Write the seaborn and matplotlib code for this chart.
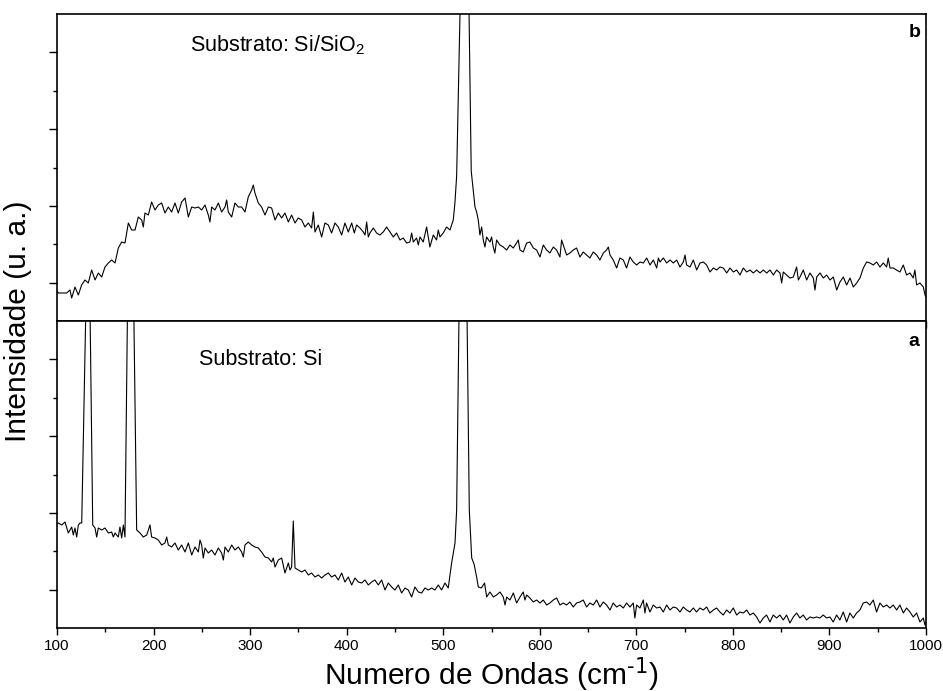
import matplotlib
matplotlib.use("Agg")
import matplotlib.pyplot as plt
from matplotlib.ticker import FixedLocator, MultipleLocator, NullFormatter
import numpy as np
import pandas as pd
import seaborn as sns

# ---------------- data (arbitrary units) ----------------
# (b) Substrato: Si/SiO2
wn_b = [100.0, 101.4, 104.8, 108.3, 110.0, 113.5, 115.2, 118.6, 122.1, 125.5, 129.0, 132.4, 135.9,
        139.4, 142.8, 146.3, 149.7, 153.2, 156.6, 160.1, 163.5, 167.0, 170.4, 173.9, 177.3, 180.8,
        184.2, 187.7, 189.4, 191.1, 194.6, 198.0, 201.5, 204.9, 208.4, 211.8, 215.3, 218.7, 222.2,
        225.6, 229.1, 232.6, 236.0, 239.5, 242.9, 246.4, 249.8, 253.3, 256.7, 258.4, 260.2, 263.6,
        267.1, 270.5, 274.0, 275.7, 277.4, 280.9, 284.3, 287.8, 291.2, 294.7, 298.1, 301.6, 303.3,
        305.0, 308.5, 311.9, 315.4, 318.9, 322.3, 325.8, 329.2, 332.7, 336.1, 339.6, 343.0, 346.5,
        349.9, 353.4, 356.8, 360.3, 363.7, 365.5, 367.2, 370.6, 374.1, 377.5, 381.0, 384.4, 387.9,
        391.3, 394.8, 398.2, 401.7, 405.2, 407.9,
        410.3, 413.8, 417.2, 419.0, 420.7, 422.4, 424.1, 427.6, 431.0, 434.5, 437.9, 441.4, 444.8,
        448.3, 451.7, 455.2, 458.6, 462.1, 465.5, 467.3, 469.0, 472.4, 474.2, 475.9, 479.3, 482.8,
        486.2, 489.7, 493.1, 494.9, 496.6, 500.0, 503.5, 507.0, 510.4, 512.1, 513.9, 523.0, 529.0,
        531.1, 532.9, 534.6, 536.3, 538.0, 539.8, 541.5, 543.2, 544.9, 548.4, 550.1, 551.8, 553.5,
        555.3, 558.7, 562.2, 565.6, 569.1, 572.5, 576.0, 577.7, 579.5, 582.9, 586.4, 589.8, 593.3,
        596.7, 600.2, 603.6, 607.1, 610.5, 614.0, 617.4, 620.9, 622.6, 624.3, 627.8, 631.2, 634.7,
        638.1, 641.6, 645.0, 648.5, 651.9, 655.4, 658.9, 662.3, 665.8, 669.2, 671.0, 672.7, 676.1,
        679.6, 683.0, 686.5, 689.9, 693.4, 696.8, 700.3,
        703.8, 707.3, 710.7, 714.2, 717.6, 721.1, 722.8, 724.5, 728.0, 731.4, 734.9, 738.3, 741.8,
        745.2, 748.7, 750.4, 752.1, 755.6, 759.0, 762.5, 765.9, 769.4, 772.8, 776.3, 779.7, 783.2,
        786.6, 790.1, 793.6, 797.0, 800.5, 803.9, 807.4, 810.8, 814.3, 817.7, 821.2, 824.6, 828.1,
        831.5, 835.0, 838.4, 841.9, 845.3, 848.8, 850.5, 852.2, 855.7, 859.1, 862.6, 866.0, 867.8,
        869.5, 872.9, 876.4, 879.8, 883.3, 885.0, 886.8, 890.2, 893.7, 897.1, 900.6, 904.0, 907.5,
        910.9, 914.4, 917.8, 921.3, 924.7, 928.2, 931.6, 935.1, 938.5, 942.0, 945.4, 948.9, 952.3,
        955.8, 959.2, 960.9, 962.7, 966.1, 969.6, 973.0, 976.5, 979.9, 983.4, 986.8, 988.5, 990.3,
        993.7, 997.2, 999.0, 1000.0]
int_b = [30, 28, 28, 28, 28, 31, 23, 34, 26, 36, 41, 38, 51,
         41, 48, 44, 54, 58, 61, 58, 73, 79, 78, 98, 91, 91,
         104, 101, 94, 108, 106, 119, 111, 116, 118, 108, 114, 109, 118,
         108, 119, 123, 104, 114, 113, 114, 111, 116, 106, 99, 114, 111,
         118, 109, 114, 121, 109, 104, 118, 114, 114, 109, 124, 131, 136,
         128, 118, 114, 106, 114, 113, 101, 108, 103, 108, 99, 106, 98,
         103, 101, 94, 98, 93, 109, 89, 96, 84, 98, 96, 88, 98,
         94, 86, 98, 89, 98, 88,
         96, 93, 89, 86, 99, 84, 88, 93, 88, 86, 89, 94, 89,
         84, 88, 81, 83, 78, 79, 88, 79, 83, 76, 84, 79, 94,
         74, 86, 81, 91, 84, 88, 94, 91, 101, 118, 145, 570, 150,
         131, 114, 109, 101, 86, 94, 81, 74, 84, 79, 84, 74, 68,
         81, 76, 74, 71, 76, 73, 78, 81, 71, 69, 78, 79, 73,
         71, 64, 76, 71, 68, 74, 71, 64, 81, 76, 66, 68, 71,
         73, 64, 69, 66, 63, 69, 66, 61, 68, 71, 74, 66, 61,
         53, 63, 61, 53, 64, 59, 56,
         59, 58, 63, 56, 61, 53, 63, 59, 63, 58, 61, 58, 61,
         54, 59, 66, 56, 54, 61, 51, 58, 59, 56, 49, 53, 51,
         54, 53, 48, 53, 49, 51, 46, 53, 49, 51, 48, 51, 48,
         51, 48, 51, 46, 51, 48, 38, 49, 46, 43, 44, 54, 41,
         44, 51, 41, 48, 43, 31, 44, 48, 43, 46, 41, 44, 31,
         39, 44, 36, 43, 34, 38, 43, 53, 59, 58, 56, 59, 54,
         58, 54, 63, 53, 53, 51, 49, 56, 46, 48, 43, 51, 36,
         38, 34, 26, 24]

# (a) Substrato: Si
wn_a = [100.0, 101.4, 104.8, 108.3, 111.7, 115.2, 116.9, 118.6, 120.4, 122.1, 123.8, 125.6, 132.5,
        137.0, 139.4, 141.1, 142.8, 146.3, 149.7, 153.2, 156.6, 158.3, 160.1, 163.5, 165.2, 167.0,
        168.7, 170.4, 176.0, 182.5, 186.0, 189.4, 192.9, 196.3, 198.0, 201.5, 204.9, 208.4, 211.8,
        213.6, 215.3, 218.7, 222.2, 225.6, 229.1, 232.6, 236.0, 239.5, 242.9, 246.4, 248.1, 249.8,
        251.5, 253.3, 256.7, 260.2, 263.6, 267.1, 270.5, 272.3, 274.0, 277.4, 280.9, 284.3, 287.8,
        291.2, 293.0, 294.7, 298.1, 301.6, 305.0, 308.5, 311.9, 315.4, 318.9, 322.3, 324.0, 325.8,
        329.2, 332.7, 336.1, 339.6, 341.3, 343.0, 344.7, 346.5, 349.9, 353.4, 356.8, 360.3, 363.7,
        367.2, 370.6, 374.1, 377.5, 381.0, 384.4, 387.9, 391.3, 394.8, 398.2, 401.7, 405.2, 408.6,
        412.1, 415.5, 419.0, 422.4, 425.9, 429.3, 432.8, 436.2, 439.7, 443.1, 446.6, 450.0, 453.5,
        456.9, 460.4, 463.8, 467.3, 470.7, 474.2, 477.6, 481.1, 484.5, 488.0, 491.4, 494.9, 498.3,
        501.8, 505.2, 508.7, 512.2, 513.9, 520.6, 527.0, 529.5, 531.9, 534.6, 536.3, 539.5, 542.8,
        545.0, 548.4, 551.9, 555.3, 558.8, 562.2, 564.0, 565.7, 569.1, 572.6, 576.0, 579.5, 582.9,
        584.6, 586.4, 589.8, 593.3, 596.7, 600.2, 603.6, 607.1, 610.5, 614.0, 617.4, 620.9, 624.3,
        627.8, 631.2, 634.7, 638.1, 641.6, 645.0, 648.5, 651.9, 655.4, 658.9, 662.3, 665.8, 669.2,
        672.7, 676.1, 679.6, 683.0, 686.5, 689.9, 693.4, 696.8, 698.5, 700.3, 703.7, 707.2, 708.9,
        710.6, 714.1, 717.5, 721.0, 724.5, 727.9, 731.4, 734.8, 738.3, 741.7, 745.2, 748.6, 752.1,
        755.5, 759.0, 762.4, 765.9, 769.3, 772.8, 776.2, 779.7, 783.1, 786.6, 790.0, 793.5, 796.9,
        800.4, 803.9, 807.3, 810.8, 814.2, 817.7, 821.1, 824.6, 828.0, 831.5, 834.9, 838.4, 841.8,
        845.3, 848.7, 852.2, 855.6, 859.1, 862.5, 866.0, 869.4, 872.9, 876.3, 879.8, 883.2, 886.7,
        890.1, 893.6, 897.0, 900.5, 903.9, 907.4, 910.8, 914.3, 917.8, 921.2, 924.7, 928.1, 931.6,
        935.0, 938.5, 941.9, 945.4, 948.8, 952.3, 955.7, 959.2, 962.6, 966.1, 969.6, 973.0, 976.5,
        979.9, 983.4, 986.8, 990.3, 993.7, 997.2, 998.9, 1000.0]
int_a = [104, 105, 103, 106, 95, 101, 93, 100, 91, 103, 105, 105, 450,
         103, 100, 91, 100, 98, 100, 95, 96, 91, 95, 91, 101, 90,
         103, 91, 580, 98, 95, 91, 93, 103, 91, 90, 88, 83, 85,
         91, 83, 81, 85, 78, 83, 76, 85, 73, 81, 76, 88, 83,
         70, 80, 75, 78, 73, 80, 75, 68, 81, 76, 83, 78, 81,
         76, 71, 83, 86, 83, 81, 80, 76, 71, 70, 66, 70, 61,
         68, 70, 55, 65, 58, 61, 107, 60, 58, 56, 58, 53, 55,
         51, 53, 50, 53, 55, 51, 53, 48, 55, 46, 51, 43, 50,
         46, 45, 48, 43, 46, 48, 43, 48, 38, 45, 41, 38, 43,
         35, 40, 38, 31, 41, 36, 35, 40, 38, 40, 38, 43, 38,
         45, 40, 65, 85, 118, 650, 118, 70, 64, 51, 41, 40, 45,
         31, 36, 31, 33, 36, 31, 23, 31, 28, 35, 25, 31, 36,
         28, 33, 30, 26, 28, 25, 28, 23, 25, 28, 30, 23, 25,
         23, 26, 21, 25, 26, 28, 21, 25, 23, 28, 21, 26, 23,
         18, 25, 21, 23, 20, 25, 21, 25, 10, 23, 20, 28, 15,
         25, 16, 23, 20, 21, 16, 23, 18, 21, 20, 16, 21, 18,
         16, 20, 16, 20, 18, 21, 15, 18, 20, 16, 13, 18, 15,
         20, 13, 16, 15, 18, 13, 15, 11, 5, 10, 13, 6, 13,
         10, 13, 8, 13, 5, 11, 15, 10, 13, 8, 11, 10, 11,
         10, 13, 10, 11, 6, 13, 8, 16, 6, 15, 10, 15, 18,
         25, 26, 23, 28, 16, 25, 21, 23, 20, 23, 18, 23, 15,
         20, 16, 11, 15, 6, 10, 3, 5]

x_ticks = [100, 200, 300, 400, 500, 600, 700, 800, 900, 1000]
y_major = [38.4, 115.1, 191.9, 268.6]
y_minor = [76.8, 153.5, 230.2]

label_b = r"Substrato: Si/SiO$_{\mathregular{2}}$"
label_a = "Substrato: Si"
xlabel = r"Numero de Ondas (cm$^{\text{-1}}$)"
ylabel = "Intensidade (u. a.)"

# ---------------- style ----------------
sns.set_style("ticks")
plt.rcParams["font.family"] = ["Liberation Sans", "DejaVu Sans"]
plt.rcParams["mathtext.default"] = "regular"
for key in ("text.color", "axes.labelcolor", "xtick.color", "ytick.color", "axes.edgecolor"):
    plt.rcParams[key] = "black"

df_b = pd.DataFrame({"wn": wn_b, "I": int_b})
df_a = pd.DataFrame({"wn": wn_a, "I": int_a})

fig = plt.figure(figsize=(9.43, 6.91), dpi=100)
ax_b = fig.add_axes([57 / 943, 1 - 321 / 691, 869 / 943, 307 / 691])
ax_a = fig.add_axes([57 / 943, 1 - 628 / 691, 869 / 943, 307 / 691])

for ax, df in ((ax_b, df_b), (ax_a, df_a)):
    sns.lineplot(data=df, x="wn", y="I", ax=ax, color="black", linewidth=0.8,
                 sort=False, estimator=None, errorbar=None)
    ax.set_xlim(100, 1000)
    ax.set_ylim(0, 307)
    ax.set_xlabel("")
    ax.set_ylabel("")
    for s in ax.spines.values():
        s.set_visible(True)
        s.set_color("black")
        s.set_linewidth(1.2)
    ax.xaxis.set_major_locator(FixedLocator(x_ticks))
    ax.xaxis.set_minor_locator(MultipleLocator(50))
    ax.yaxis.set_major_locator(FixedLocator(y_major))
    ax.yaxis.set_minor_locator(FixedLocator(y_minor))
    ax.yaxis.set_major_formatter(NullFormatter())
    ax.tick_params(axis="y", which="major", direction="out", length=6, width=1.0, left=True, right=False,
                   color="black")
    ax.tick_params(axis="y", which="minor", direction="out", length=3, width=1.0, left=True, right=False,
                   color="black")
    ax.tick_params(axis="x", which="major", direction="out", length=5, width=1.0, top=False, bottom=True,
                   color="black")
    ax.tick_params(axis="x", which="minor", direction="out", length=3, width=1.0, top=False, bottom=True,
                   color="black")

ax_b.xaxis.set_major_formatter(NullFormatter())
ax_a.tick_params(axis="x", which="major", labelsize=11, pad=3, labelcolor="black")

ax_b.text(0.153, 0.899, label_b, transform=ax_b.transAxes, fontsize=15.5, ha="left", va="center")
ax_a.text(0.163, 0.873, label_a, transform=ax_a.transAxes, fontsize=15.5, ha="left", va="center")
ax_b.text(0.994, 0.941, "b", transform=ax_b.transAxes, fontsize=14, fontweight="bold", ha="right", va="center")
ax_a.text(0.992, 0.932, "a", transform=ax_a.transAxes, fontsize=14, fontweight="bold", ha="right", va="center")

fig.text(0.019, 1 - 321 / 691, ylabel, rotation=90, fontsize=21.5, ha="center", va="center")
fig.text(491.5 / 943, 1 - 684 / 691, xlabel, fontsize=21.5, ha="center", va="baseline")

fig.savefig("out.png", dpi=100)
